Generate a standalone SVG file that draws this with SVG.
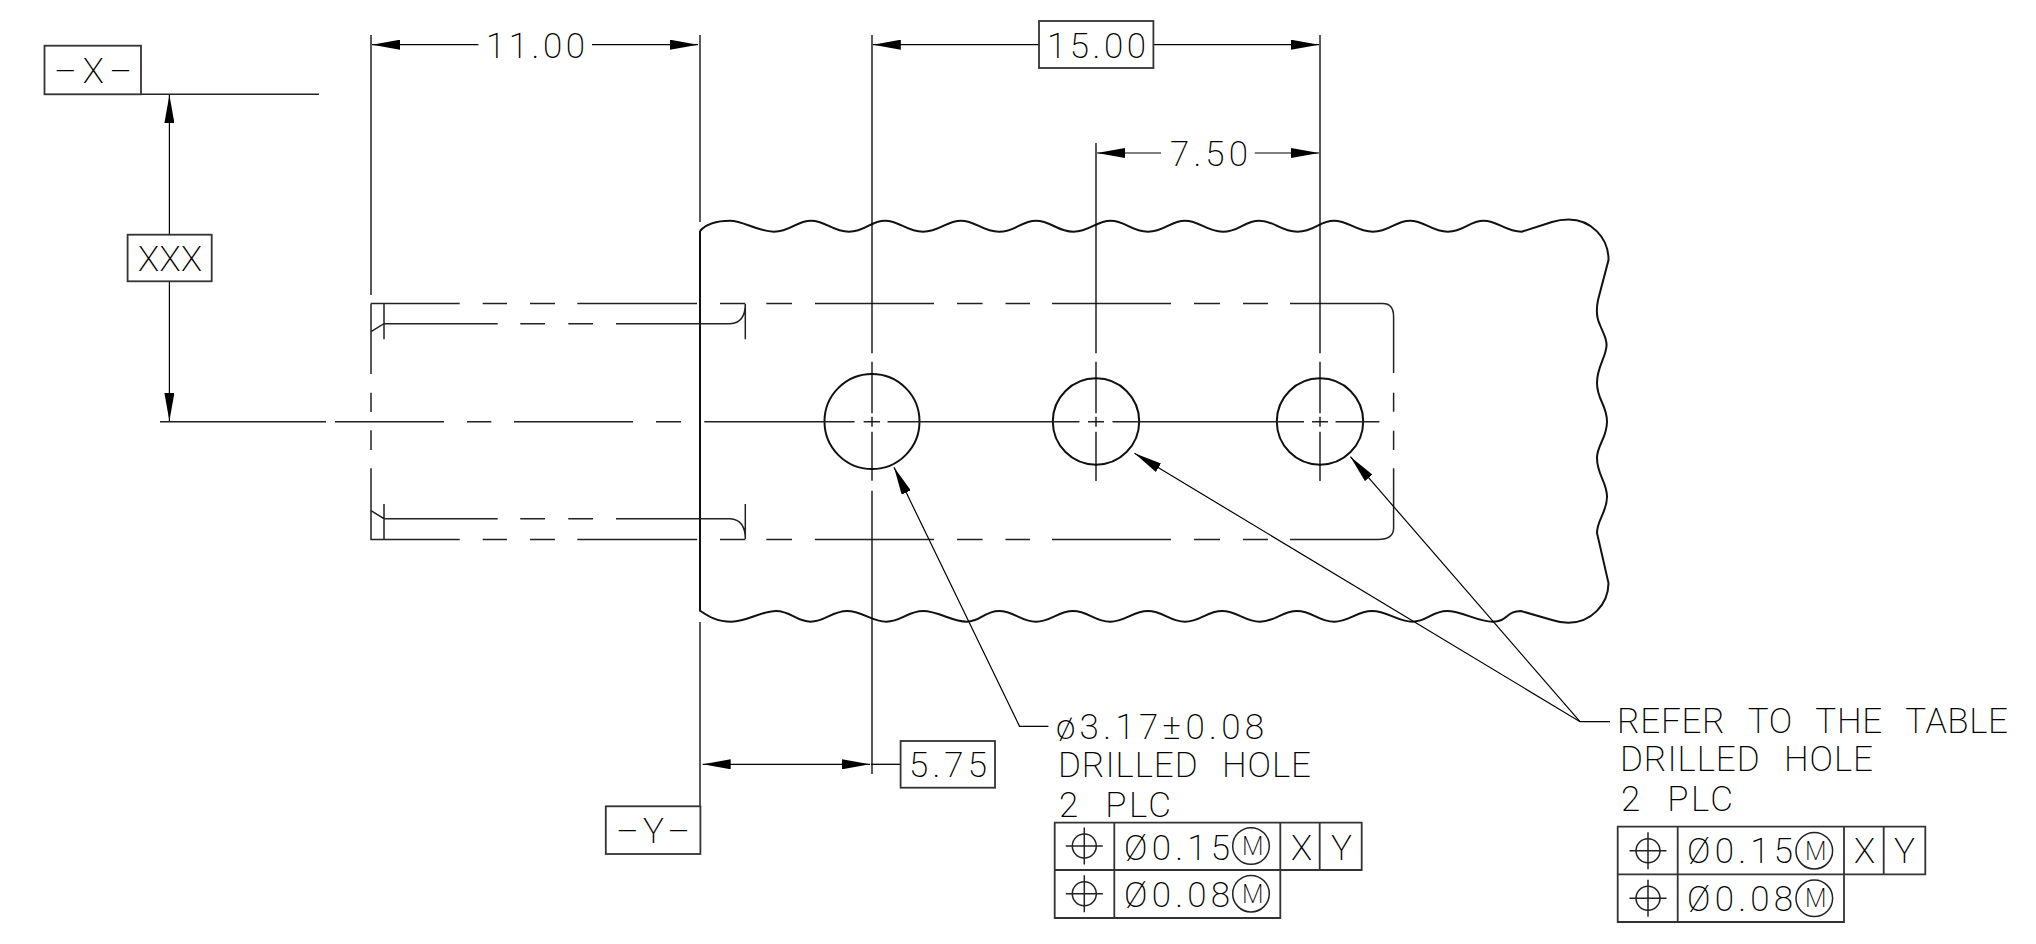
<svg xmlns="http://www.w3.org/2000/svg" width="2036" height="944" viewBox="0 0 2036 944">
<defs>
<marker id="arrow" markerUnits="userSpaceOnUse" markerWidth="28" markerHeight="10" refX="28" refY="5" orient="auto-start-reverse"><path d="M0,0L28,5L0,10z" fill="#000"/></marker>
<g id="posSym"><circle r="12"/><path d="M-18.5,0H18.5M0,-18.5V18.5"/></g>
</defs>
<style>
text{font-family:"Roboto","Liberation Sans",sans-serif;font-weight:200;font-size:35px;fill:#000}
.w{word-spacing:14px}
.m{font-size:25px}
.l{fill:none;stroke:#222;stroke-width:1.5}
.e{fill:none;stroke:#000;stroke-width:1.3}
.o{fill:none;stroke:#111;stroke-width:2}
.b{fill:#fff;stroke:#333;stroke-width:1.8}
.a1{fill:none;stroke:#000;stroke-width:1.2;marker-start:url(#arrow)}
.s{fill:none;stroke:#222;stroke-width:1.5}
</style>
<rect width="2036" height="944" fill="#fff"/>
<g id="part">
<path class="o" d="M700,231C706,224 716,220.7 730,220.7S757,231.7 774,231.7S796,220.7 811,220.7S832,231.7 849,231.7S870,220.7 885,220.7S906,231.7 923,231.7S946,220.7 961,220.7S982,231.7 999,231.7S1021,220.7 1036,220.7S1057,231.7 1073.5,231.7S1096,220.7 1110.7,220.7S1131,231.7 1148,231.7S1170,220.7 1185,220.7S1206,231.7 1222.7,231.7S1244,220.7 1259.4,220.7S1280,231.7 1297.5,231.7S1319,220.7 1334,220.7S1356,231.7 1373,231.7S1395,220.7 1410,220.7S1431,231.7 1447.8,231.7S1469,220.7 1483.6,220.7S1505,231.7 1521.7,231.7L1552,222Q1560,219.5 1568.5,219.5A40,40 0 0 1 1608.5,260L1598,300Q1595,315 1600,325C1604,335 1606.6,338 1606.6,345C1606,358 1597,366 1597,383C1597,400 1607,405 1607,421.7C1607,438 1597,445 1597,458C1597,475 1607,482 1607,496.7C1607,512 1597,520 1597,533L1608.5,583A40,40 0 0 1 1568.5,622.7Q1560,622.7 1552,620L1521,611C1506,611 1508,621.7 1492.8,621.7S1462,611 1447,611S1427,621.7 1412.4,621.7S1387,611 1372,611S1349,621.7 1334,621.7S1312,611 1297,611S1275,621.7 1260,621.7S1237,611 1222,611S1200,621.7 1185,621.7S1163,611 1148,611S1125,621.7 1110,621.7S1088,611 1073,611S1051,621.7 1036,621.7S1014,611 999,611S981,621.7 966.7,621.7S938,611 923,611S901,621.7 886.4,621.7S862,611 847,611S825,621.7 810.6,621.7S791,611 776,611S747,621.7 731.6,621.7C716,621.7 708,616 700,610.7V231"/>
<path class="l" d="M371,303.5H459.7M482.7,303.5H507M530,303.5H555M577.3,303.5H697M720,303.5H745.3M766.3,303.5H792M815,303.5H934M957,303.5H982.6M1005.5,303.5H1030M1052,303.5H1171M1194,303.5H1220M1243,303.5H1268M1290,303.5H1382.6Q1393.6,303.5 1393.6,316.7V373M1393.6,392.7V411.7M1393.6,430.7V450M1393.6,468.3V528Q1393.6,539.5 1378,539.5H1290M1268,539.5H1243M1220,539.5H1194M1171,539.5H1052M1030,539.5H1005.5M982.6,539.5H957M934,539.5H815M792,539.5H766.3M745.3,539.5H720M697,539.5H577.3M555,539.5H530M507,539.5H482.7M459.7,539.5H371V468.3M371,450V430.3M371,412V392.7M371,374V303.5"/>
<path class="l" d="M384,303.5V339.3M371,331.7L384,323.7H497.7M520.3,323.7H545M568.3,323.7H593M616,323.7H730Q745.3,323 745.3,304V339.3M384,504V539.5M371,510.7L384,518.7H497.7M520.3,518.7H545M568.3,518.7H593M616,518.7H730Q745.3,519.5 745.3,539V504"/>
<circle class="o" cx="872" cy="421.5" r="47.5"/>
<circle class="o" cx="1096" cy="421.5" r="43.2"/>
<circle class="o" cx="1320" cy="421.5" r="43.2"/>
<path class="l" d="M335,421.7H444M467,421.7H491.3M514,421.7H633M656,421.7H681M704.3,421.7H854.5M863.6,421.7H880M887.5,421.7H1079.4M1088,421.7H1104M1112.5,421.7H1304M1312,421.7H1328M1335.5,421.7H1379.4"/>
</g>
<g id="connectors">
<path class="e" d="M371,35V295M700,35V222M700,622V806"/>
<path class="e" d="M872,35V353.3M872,361.7V413.3M872,416.7V426.7M872,431.7V480.7M872,490.7V774"/>
<path class="e" d="M1096,143V353.3M1096,361.7V413.3M1096,416.7V426.7M1096,431.7V481"/>
<path class="e" d="M1320,35V353.3M1320,361.7V413.3M1320,416.7V426.7M1320,431.7V481"/>
<path class="l" d="M141,94.3H319M160,421.7H326"/>
<path class="a1" d="M372,44.7H478.4"/>
<path class="a1" d="M698,44.7H592"/>
<path class="a1" d="M872.8,44.7H1039"/>
<path class="a1" d="M1319,44.7H1153.4"/>
<path class="a1" d="M1097,153H1161"/>
<path class="a1" d="M1319,153H1254.8"/>
<path class="a1" d="M169.4,95V234.7"/>
<path class="a1" d="M169.4,421V281.3"/>
<path class="a1" d="M702.7,764.3H786"/>
<path class="a1" d="M870,764.3H786"/>
<path class="e" d="M871,764.3H900.6"/>
<path class="a1" d="M894,467.3L1019.5,726.3H1048.4"/>
<path class="a1" d="M1134.5,453.3L1580,721.7H1610"/>
<path class="a1" d="M1350.4,456.7L1580,721.7"/>
</g>
<g id="dim-11"><text x="486" y="58.3" textLength="99">11.00</text></g>
<g id="dim-15"><rect class="b" x="1039" y="21" width="114.4" height="47"/><text x="1047" y="58.3" textLength="99">15.00</text></g>
<g id="dim-7-50"><text x="1170" y="166" textLength="78">7.50</text></g>
<g id="datum-x"><rect class="b" x="44.5" y="45.7" width="96.5" height="48.6"/><text x="54" y="82.7" textLength="78">–X–</text></g>
<g id="dim-xxx"><rect class="b" x="127.6" y="234.7" width="84.1" height="46.6"/><text x="138" y="270.7" textLength="64">XXX</text></g>
<g id="datum-y"><rect class="b" x="605.8" y="806.3" width="94.6" height="47.7"/><text x="616" y="843" textLength="74">–Y–</text></g>
<g id="dim-5-75"><rect class="b" x="900.6" y="741" width="94.4" height="46.7"/><text x="909" y="776.5" textLength="78">5.75</text></g>
<g id="note-left">
<text x="1056" y="739.3" textLength="208">ø3.17±0.08</text>
<text class="w" x="1058" y="777.3" textLength="253">DRILLED HOLE</text>
<text class="w" x="1059" y="816.7" textLength="112">2 PLC</text>
</g>
<g id="note-right">
<text class="w" x="1617" y="733.3" textLength="391">REFER TO THE TABLE</text>
<text class="w" x="1620" y="770.7" textLength="253">DRILLED HOLE</text>
<text class="w" x="1621" y="810.7" textLength="112">2 PLC</text>
</g>
<g id="fcf-left">
<path class="b" d="M1054.7,822.7H1361.7V870H1054.7zM1054.7,870H1280.3V918H1054.7zM1114.3,822.7V918M1280.3,822.7V870M1319.7,822.7V870"/>
<use href="#posSym" class="s" x="1084.3" y="846"/><use href="#posSym" class="s" x="1084.3" y="893.7"/>
<text x="1124" y="859.5" textLength="106">Ø0.15</text>
<circle class="s" cx="1251" cy="846" r="18.3"/><text class="m" x="1242" y="855" textLength="18">M</text>
<text x="1291" y="859.5">X</text><text x="1331" y="859.5">Y</text>
<text x="1124" y="907.3" textLength="106">Ø0.08</text>
<circle class="s" cx="1251" cy="893.7" r="18.3"/><text class="m" x="1242" y="902.7" textLength="18">M</text>
</g>
<g id="fcf-right">
<path class="b" d="M1617.7,826.7H1925.3V874.3H1617.7zM1617.7,874.3H1844V922H1617.7zM1677.7,826.7V922M1844,826.7V874.3M1883.7,826.7V874.3"/>
<use href="#posSym" class="s" x="1648" y="850.7"/><use href="#posSym" class="s" x="1648" y="898.3"/>
<text x="1687" y="862.8" textLength="106">Ø0.15</text>
<circle class="s" cx="1814.3" cy="850.7" r="18.3"/><text class="m" x="1805" y="859.7" textLength="18">M</text>
<text x="1854" y="862.8">X</text><text x="1894" y="862.8">Y</text>
<text x="1687" y="910.7" textLength="106">Ø0.08</text>
<circle class="s" cx="1814.3" cy="898.3" r="18.3"/><text class="m" x="1805" y="907.3" textLength="18">M</text>
</g>
</svg>
